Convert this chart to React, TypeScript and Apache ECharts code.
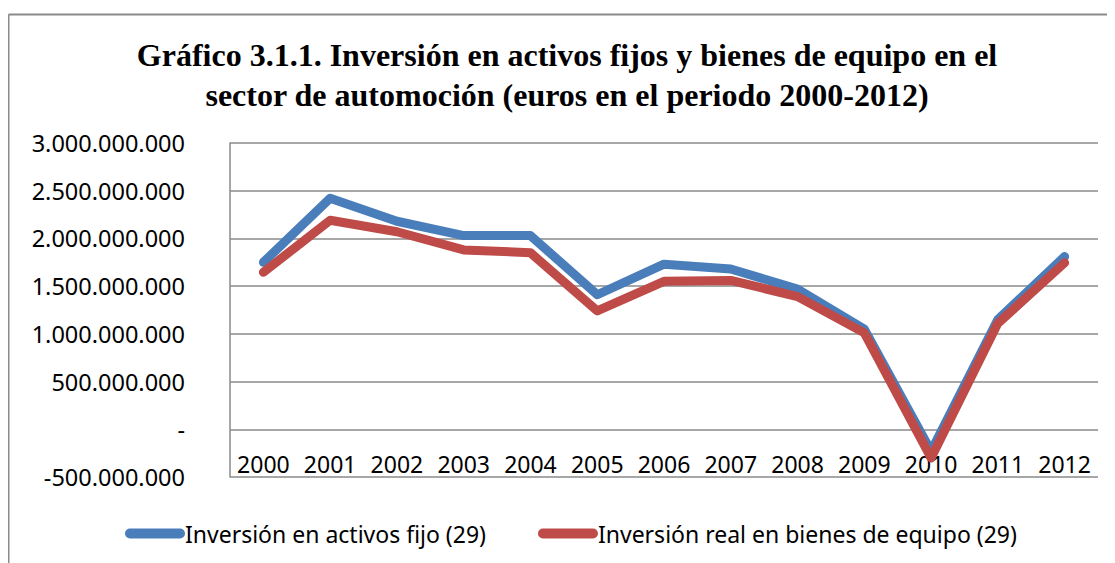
import React, { useEffect, useRef } from "react";
import * as echarts from "echarts";

const years = ["2000", "2001", "2002", "2003", "2004", "2005", "2006", "2007", "2008", "2009", "2010", "2011", "2012"];
const activosFijos = [1750000000, 2420000000, 2180000000, 2030000000, 2030000000, 1410000000, 1730000000, 1680000000, 1470000000, 1050000000, -230000000, 1150000000, 1810000000];
const bienesEquipo = [1645000000, 2190000000, 2070000000, 1880000000, 1850000000, 1240000000, 1550000000, 1560000000, 1390000000, 1010000000, -300000000, 1110000000, 1745000000];
const seriesNames = ["Inversión en activos fijo (29)", "Inversión real en bienes de equipo (29)"];
const titleText = "Gráfico 3.1.1. Inversión en activos fijos y bienes de equipo en el\nsector de automoción (euros en el periodo 2000-2012)";

const fmt = (v: number) => {
  if (v === 0) return "-";
  const neg = v < 0;
  const s = Math.abs(v).toFixed(0).replace(/\B(?=(\d{3})+(?!\d))/g, ".");
  return (neg ? "-" : "") + s;
};

const capsule = "path://M5,0 H55 A5,5 0 0 1 55,10 H5 A5,5 0 0 1 5,0 Z";

export default function App() {
  const ref = useRef<HTMLDivElement>(null);
  useEffect(() => {
    if (!ref.current) return;
    const chart = echarts.init(ref.current, null, { renderer: "svg" });
    const font = "Noto Sans";
    chart.setOption({
      animation: false,
      backgroundColor: "#ffffff",
      graphic: [
        {
          type: "line",
          shape: { x1: 0.5, y1: 6.5, x2: 1200, y2: 6.5 },
          style: { stroke: "#8a8a8a", lineWidth: 2 },
        },
        {
          type: "line",
          shape: { x1: 0.5, y1: 6.5, x2: 0.5, y2: 600 },
          style: { stroke: "#8a8a8a", lineWidth: 2 },
        },
        {
          type: "text",
          x: 559,
          y: 67,
          style: {
            text: titleText,
            fontFamily: "Liberation Serif",
            fontWeight: "bold",
            fontSize: 32,
            lineHeight: 40,
            align: "center",
            verticalAlign: "middle",
            fill: "#000000",
          },
        },
      ],
      grid: { left: 222, top: 135, right: 17, bottom: 86, containLabel: false },
      legend: {
        left: 112,
        top: 509,
        itemWidth: 60,
        itemHeight: 10,
        itemGap: 52,
        icon: capsule,
        textStyle: { fontFamily: font, fontSize: 23, color: "#000", padding: [0, 0, 0, -5] },
        data: seriesNames,
      },
      xAxis: {
        type: "category",
        data: years,
        boundaryGap: true,
        position: "bottom",
        axisLine: { show: false, onZero: false },
        axisTick: { show: false },
        axisLabel: { inside: true, interval: 0, hideOverlap: false, margin: 2, fontFamily: font, fontSize: 23, color: "#000" },
        splitLine: { show: false },
      },
      yAxis: {
        type: "value",
        min: -500000000,
        max: 3000000000,
        interval: 500000000,
        axisLine: { show: true, lineStyle: { color: "#8a8a8a", width: 1.5 } },
        axisTick: { show: false },
        axisLabel: { margin: 45, fontFamily: font, fontSize: 23.5, color: "#000", formatter: fmt },
        splitLine: { show: true, lineStyle: { color: "#8a8a8a", width: 1.5 } },
      },
      series: [
        {
          name: seriesNames[0],
          type: "line",
          data: activosFijos,
          symbol: "none",
          color: "#4A7EBB",
          lineStyle: { width: 9, color: "#4A7EBB", cap: "round", join: "round" },
        },
        {
          name: seriesNames[1],
          type: "line",
          data: bienesEquipo,
          symbol: "none",
          color: "#BE4B48",
          lineStyle: { width: 9, color: "#BE4B48", cap: "round", join: "round" },
        },
      ],
    });
    return () => chart.dispose();
  }, []);
  return <div ref={ref} style={{ width: 1107, height: 555 }} />;
}
